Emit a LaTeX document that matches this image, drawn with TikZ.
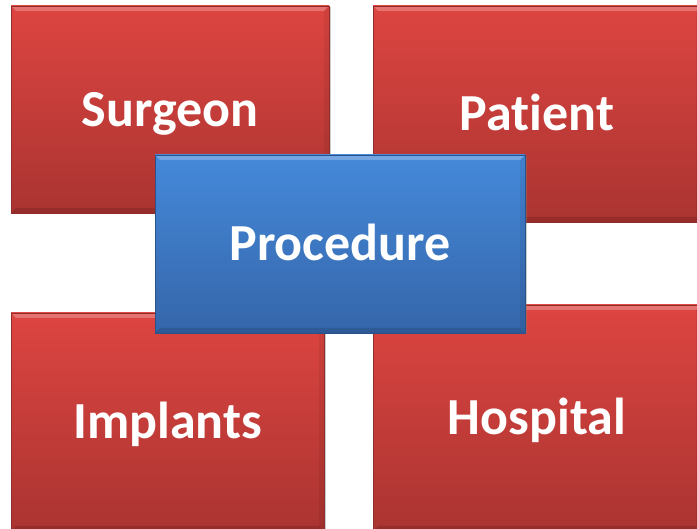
\documentclass[tikz,border=0pt]{standalone}
\usepackage{fontspec}
\setmainfont{Carlito}[Ligatures=NoCommon]
\usetikzlibrary{shadows}

\definecolor{redtop}{HTML}{DD4541}
\definecolor{redbot}{HTML}{AA3431}
\definecolor{bluetop}{HTML}{4589DA}
\definecolor{bluebot}{HTML}{3566AA}

\tikzset{
  bevel/.style={path picture={
      \fill[white,opacity=.25] (path picture bounding box.north west) -- (path picture bounding box.north east)
        -- ([xshift=-5pt,yshift=-5pt]path picture bounding box.north east) -- ([xshift=5pt,yshift=-5pt]path picture bounding box.north west) -- cycle;
      \fill[black,opacity=.12] (path picture bounding box.south west) -- (path picture bounding box.south east)
        -- ([xshift=-5pt,yshift=5pt]path picture bounding box.south east) -- ([xshift=5pt,yshift=5pt]path picture bounding box.south west) -- cycle;
      \fill[black,opacity=.06] (path picture bounding box.north east) -- (path picture bounding box.south east)
        -- ([xshift=-5pt,yshift=5pt]path picture bounding box.south east) -- ([xshift=-5pt,yshift=-5pt]path picture bounding box.north east) -- cycle;
    }},
  box/.style={rectangle, inner sep=0pt, text=white, bevel,
    text height=34pt, text depth=0pt,
    font=\fontsize{52}{60}\selectfont\bfseries,
    drop shadow={opacity=.4, shadow xshift=1.5pt, shadow yshift=-1.5pt}},
  redbox/.style={box, top color=redtop, bottom color=redbot, draw=redbot!85!black, line width=.5pt},
  bluebox/.style={box, top color=bluetop, bottom color=bluebot, draw=bluebot!80!black, line width=.5pt},
}

\begin{document}
\begin{tikzpicture}[x=1pt,y=-1pt]
  \useasboundingbox (0,0) rectangle (697,529);

  % the four red boxes
  \begin{scope}[every node/.style={redbox}]
    \node[minimum width=318pt, minimum height=207pt] (surgeon)  at (170,109.5) {Surgeon};
    \node[minimum width=328pt, minimum height=216pt] (patient)  at (537,114)   {Patient};
    \node[minimum width=313pt, minimum height=218pt] (implants) at (167.5,422) {Implants};
    \node[minimum width=328pt, minimum height=226pt] (hospital) at (537,418)   {Hospital};
  \end{scope}

  % the blue box on top
  \node[bluebox, minimum width=370pt, minimum height=178pt] (procedure) at (340,244) {Procedure};

\end{tikzpicture}
\end{document}
